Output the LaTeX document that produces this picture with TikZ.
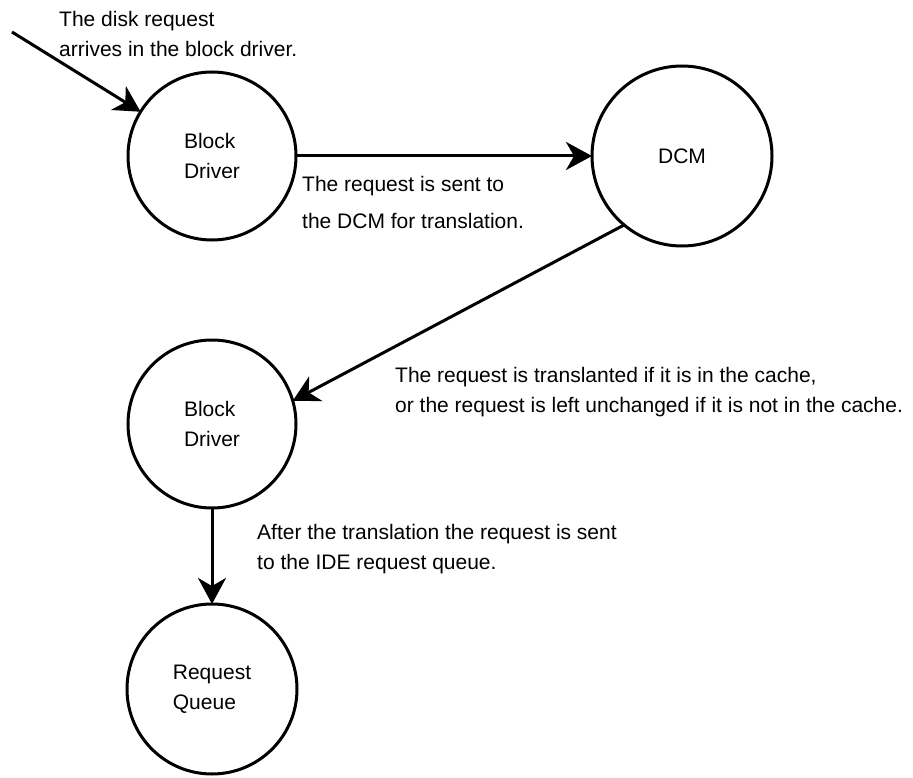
\documentclass[tikz,border=0pt]{standalone}
\usepackage{fontspec}
\setmainfont{Liberation Sans}
\usetikzlibrary{arrows.meta,positioning}

\begin{document}
\begin{tikzpicture}[x=1pt, y=-1pt,
    every node/.style={font=\fontsize{21}{30}\selectfont},
    proc/.style={draw, circle, line width=3pt, minimum size=168pt,
      inner sep=0pt, outer sep=0pt, align=left},
    flow/.style={line width=3pt,
      -{Stealth[length=26pt, width=28pt, inset=8pt]}},
    note/.style={anchor=north west, inner sep=0pt, align=left}]
  \useasboundingbox (0,0) rectangle (913,778);
  % processing stages
  \node[proc] (bd1) at (212,156) {Block\\Driver};
  \node[proc, minimum size=180pt, right=296pt of bd1] (dcm) {DCM};
  \node[proc, below=100pt of bd1] (bd2) {Block\\Driver};
  \node[proc, minimum size=170pt, below=96pt of bd2] (rq) {Request\\Queue};
  \coordinate (in) at (12,32);
  % flow of the request
  \draw[flow] (in) -- (bd1);
  \draw[flow] (bd1) -- (dcm);
  \draw[flow] (dcm.230) -- (bd2.16);
  \draw[flow] (bd2) -- (rq);
  % notes
  \node[note] (lblin) at (59,11)
    {The disk request\\arrives in the block driver.};
  \node[note, font=\fontsize{21}{37}\selectfont] (lblsent) at (302,176)
    {The request is sent to\\the DCM for translation.};
  \node[note] (lbltrans) at (395,367)
    {The request is translanted if it is in the cache,\\or the request is left unchanged if it is not in the cache.};
  \node[note] (lblqueue) at (257,524)
    {After the translation the request is sent\\to the IDE request queue.};
\end{tikzpicture}
\end{document}
